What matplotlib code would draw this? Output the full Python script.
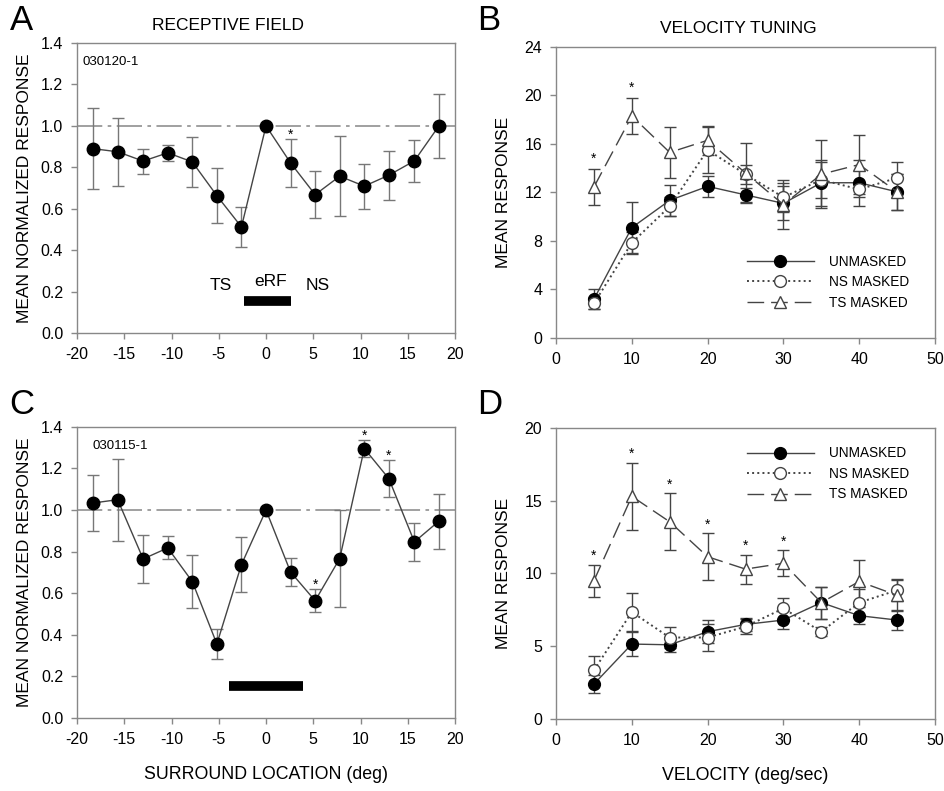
import numpy as np
import matplotlib
matplotlib.use("Agg")
import matplotlib.pyplot as plt

plt.rcParams['font.family'] = ['Liberation Sans', 'DejaVu Sans']
plt.rcParams['axes.unicode_minus'] = False

# Receptive field data (panels A and C)
rfX = [-18.3, -15.7, -13.0, -10.4, -7.8, -5.2, -2.6, 0.0, 2.6, 5.2, 7.8, 10.4, 13.0, 15.7, 18.3]
rfA = [0.89, 0.875, 0.83, 0.87, 0.826, 0.663, 0.512, 1.0, 0.821, 0.668, 0.757, 0.709, 0.762, 0.831, 1.0]
rfAErr = [0.196, 0.164, 0.06, 0.04, 0.12, 0.132, 0.097, 0.0, 0.115, 0.115, 0.192, 0.108, 0.118, 0.10, 0.154]
rfAStars = [2.6]
rfC = [1.034, 1.05, 0.765, 0.818, 0.656, 0.356, 0.738, 1.0, 0.702, 0.564, 0.767, 1.296, 1.151, 0.847, 0.947]
rfCErr = [0.137, 0.197, 0.117, 0.055, 0.127, 0.07, 0.133, 0.0, 0.067, 0.056, 0.233, 0.04, 0.09, 0.092, 0.132]
rfCStars = [5.2, 10.4, 13.0]

# Velocity tuning data (panels B and D)
vel = [5, 10, 15, 20, 25, 30, 35, 40, 45]
bUnm = [3.2, 9.1, 11.35, 12.5, 11.8, 11.1, 12.8, 12.8, 12.05]
bUnmErr = [0.8, 2.1, 1.3, 0.85, 0.6, 1.4, 1.9, 1.9, 1.5]
bNs = [2.85, 7.85, 10.85, 15.5, 13.5, 11.6, 13.05, 12.25, 13.2]
bNsErr = [0.5, 0.9, 0.8, 1.9, 0.8, 1.2, 1.5, 0.6, 1.3]
bTs = [12.45, 18.3, 15.3, 16.3, 13.6, 11.0, 13.5, 14.3, 12.05]
bTsErr = [1.5, 1.5, 2.1, 1.2, 2.5, 2.0, 2.8, 2.4, 1.5]
bStars = [5, 10]

dUnm = [2.4, 5.15, 5.1, 6.0, 6.5, 6.8, 8.0, 7.1, 6.8]
dUnmErr = [0.6, 0.8, 0.5, 0.8, 0.45, 0.6, 1.1, 0.6, 0.7]
dNs = [3.35, 7.35, 5.6, 5.6, 6.35, 7.6, 6.0, 8.0, 8.85]
dNsErr = [0.95, 1.3, 0.7, 0.9, 0.5, 0.7, 0.3, 0.9, 0.75]
dTs = [9.5, 15.3, 13.55, 11.15, 10.3, 10.7, 8.0, 9.45, 8.5]
dTsErr = [1.1, 2.3, 1.95, 1.6, 1.0, 0.9, 1.1, 1.5, 1.05]
dStars = [5, 10, 15, 20, 25, 30]

lineCol = "#444444"
errCol = "#777777"
spineCol = "#888888"

fig = plt.figure(figsize=(9.45, 7.91), dpi=100)
axA = fig.add_axes([0.0815, 0.579, 0.400, 0.3666])
axB = fig.add_axes([0.5884, 0.5727, 0.401, 0.368])
axC = fig.add_axes([0.0815, 0.0923, 0.400, 0.368])
axD = fig.add_axes([0.5884, 0.0910, 0.401, 0.368])

def styleAxes(ax):
    for s in ax.spines.values():
        s.set_color(spineCol)
        s.set_linewidth(1.0)
    ax.tick_params(direction="out", length=4, width=1, color=spineCol, labelsize=11.5, pad=6)

def starsAt(ax, xs, xdata, ydata, err, off):
    for xv in xs:
        i = list(xdata).index(xv)
        ax.text(xv, ydata[i] + err[i] + off, "*", ha="center", va="center", fontsize=10)

def rfPanel(ax, y, err, stars, label, lx):
    styleAxes(ax)
    ax.axhline(1.0, color="#999999", lw=1.3, ls=(0, (14, 3, 2, 3)), zorder=1)
    ax.errorbar(rfX, y, yerr=err, fmt="none", ecolor=errCol, elinewidth=1.0, capsize=4, capthick=1.0, zorder=2)
    ax.plot(rfX, y, "-", color=lineCol, lw=1.0, marker="o", ms=9, mfc="black", mec="black", zorder=3)
    starsAt(ax, stars, rfX, y, err, 0.02)
    ax.set_xlim(-20, 20)
    ax.set_ylim(0, 1.4)
    ax.set_xticks(np.arange(-20, 21, 5))
    ax.set_yticks(np.arange(0, 1.41, 0.2))
    ax.set_yticklabels(["%.1f" % v for v in np.arange(0, 1.41, 0.2)])
    ax.set_ylabel("MEAN NORMALIZED RESPONSE", fontsize=12.5, labelpad=6)
    ax.text(lx, 0.955, label, transform=ax.transAxes, fontsize=9.5, va="top", ha="left")

def velPanel(ax, unm, unmErr, ns, nsErr, ts, tsErr, stars, ymax, ystep, legLoc, legAnchor, starOff):
    styleAxes(ax)
    ek = dict(fmt="none", ecolor=lineCol, elinewidth=1.0, capsize=4, capthick=1.0)
    ax.errorbar(vel, ts, yerr=tsErr, zorder=2, **ek)
    ax.errorbar(vel, ns, yerr=nsErr, zorder=2, **ek)
    ax.errorbar(vel, unm, yerr=unmErr, zorder=2, **ek)
    ax.plot(vel, unm, "-", color=lineCol, lw=1.0, marker="o", ms=8.5, mfc="black", mec="black", zorder=3, label="UNMASKED")
    ax.plot(vel, ns, ":", color=lineCol, lw=1.4, marker="o", ms=8.5, mfc="white", mec=lineCol, zorder=3, label="NS MASKED")
    ax.plot(vel, ts, color=lineCol, lw=1.0, ls=(0, (12, 5)), marker="^", ms=9, mfc="white", mec=lineCol, zorder=3, label="TS MASKED")
    starsAt(ax, stars, vel, ts, tsErr, starOff)
    ax.set_xlim(0, 50)
    ax.set_ylim(0, ymax)
    ax.set_xticks(np.arange(0, 51, 10))
    ax.set_yticks(np.arange(0, ymax + 0.1, ystep))
    ax.set_ylabel("MEAN RESPONSE", fontsize=12.5, labelpad=10)
    ax.legend(loc=legLoc, bbox_to_anchor=legAnchor, frameon=False, fontsize=9.8, handlelength=4.9,
              handletextpad=1.1, labelspacing=0.47, borderaxespad=0)

rfPanel(axA, rfA, rfAErr, rfAStars, "030120-1", 0.015)
axA.text(-4.8, 0.23, "TS", ha="center", va="center", fontsize=12.5)
axA.text(0.5, 0.25, "eRF", ha="center", va="center", fontsize=12.5)
axA.text(5.5, 0.23, "NS", ha="center", va="center", fontsize=12.5)
axA.plot([-2.3, 2.6], [0.156, 0.156], color="black", lw=7, solid_capstyle="butt")
axA.text(-4.0, 1.485, "RECEPTIVE FIELD", ha="center", va="center", fontsize=12.5)

rfPanel(axC, rfC, rfCErr, rfCStars, "030115-1", 0.04)
axC.plot([-3.9, 3.9], [0.152, 0.152], color="black", lw=7, solid_capstyle="butt")
axC.set_xlabel("SURROUND LOCATION (deg)", fontsize=12.8, labelpad=14)

velPanel(axB, bUnm, bUnmErr, bNs, bNsErr, bTs, bTsErr, bStars, 24, 4, "lower right", (0.945, 0.079), 0.8)
axB.text(24.0, 25.5, "VELOCITY TUNING", ha="center", va="center", fontsize=12.5)
velPanel(axD, dUnm, dUnmErr, dNs, dNsErr, dTs, dTsErr, dStars, 20, 5, "upper right", (0.945, 0.955), 0.6)
axD.set_xlabel("VELOCITY (deg/sec)", fontsize=12.8, labelpad=14)

for ax, letter, (px, py) in [(axA, "A", (0.010, 0.995)), (axB, "B", (0.505, 0.995)),
                             (axC, "C", (0.010, 0.51)), (axD, "D", (0.505, 0.51))]:
    fig.text(px, py, letter, fontsize=25, va="top", ha="left")

fig.savefig("out.png", dpi=100)
